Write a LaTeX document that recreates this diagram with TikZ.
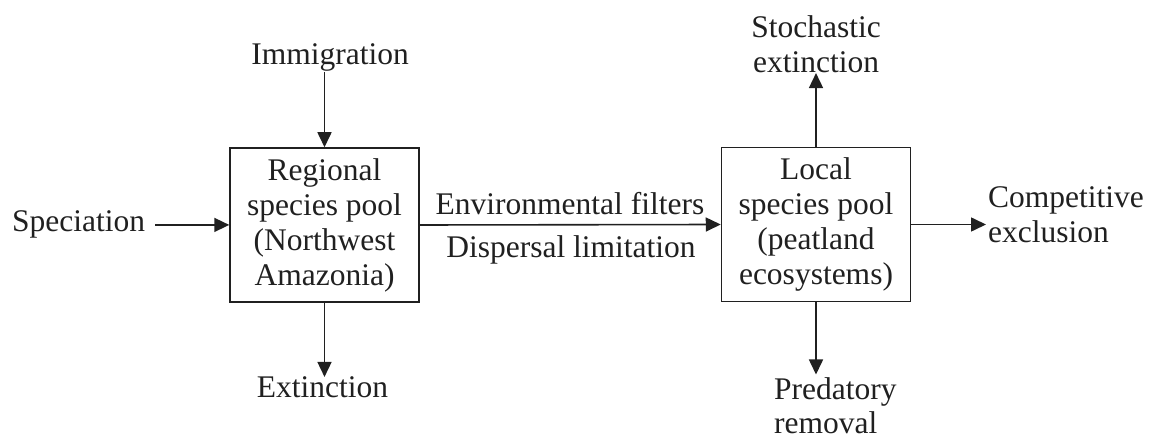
\documentclass[tikz,border=0pt]{standalone}
\usepackage{fontspec}
\setmainfont{Liberation Serif}
\usetikzlibrary{arrows.meta}
\definecolor{ink}{HTML}{202020}
\begin{document}
\begin{tikzpicture}[x=1bp,y=-1bp,
  every node/.style={text=ink,font=\fontsize{31.5bp}{35bp}\selectfont,inner sep=0pt},
  poolbox/.style={draw=ink,line width=1.5bp,minimum width=189bp,minimum height=154bp,align=center},
  lbl/.style={},
  arr/.style={draw=ink,line width=1.6bp,-{Triangle[length=15bp,width=14bp]}}]
\useasboundingbox (0,0) rectangle (1160,437);
\node[poolbox] (box1) at (324.5,225) {Regional\\species pool\\(Northwest\\Amazonia)};
\node[poolbox] (box2) at (816,224.5) {Local\\species pool\\(peatland\\ecosystems)};
\node[lbl,anchor=base] (imm) at (330,65) {Immigration};
\node[lbl,anchor=base west] (spec) at (12,232) {Speciation};
\node[lbl,anchor=base] (ext) at (322.5,398) {Extinction};
\node[lbl,anchor=base] (env) at (570,215) {Environmental filters};
\node[lbl,anchor=base] (disp) at (571,258) {Dispersal limitation};
\node[lbl,anchor=north,align=center] (stoch) at (816,15.5) {Stochastic\\extinction};
\node[lbl,anchor=north west,align=left] (comp) at (988,186.5) {Competitive\\exclusion};
\node[lbl,anchor=north west,align=left,font=\fontsize{31.5bp}{34bp}\selectfont] (pred) at (774,377.5) {Predatory\\removal};
\draw[arr] (imm.south -| box1.north) -- (box1.north);
\draw[arr] ([xshift=10bp]spec.east) -- (spec.east -| box1.west);
\draw[arr] (box1.south) -- (box1.south |- ext.north);
\draw[arr] (box1.east) -- (box2.west);
\draw[arr] (box2.north) -- (box2.north |- stoch.south);
\draw[arr,shorten >=2bp] (box2.east) -- (box2.east -| comp.west);
\draw[arr,shorten >=3bp] (box2.south) -- (box2.south |- pred.north);
\end{tikzpicture}
\end{document}
